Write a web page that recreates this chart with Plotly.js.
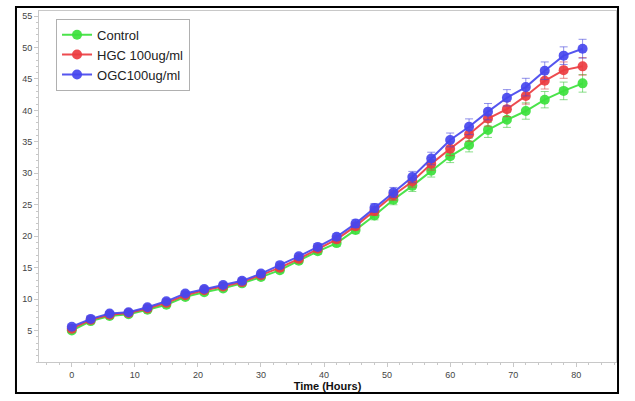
<!DOCTYPE html>
<html><head><meta charset="utf-8">
<script src="https://cdn.plot.ly/plotly-3.0.1.min.js"></script>
<style>html,body{margin:0;padding:0;background:#fff}#chart{width:635px;height:401px}</style>
</head><body><div id="chart"></div>
<script>
var hours = [0,3,6,9,12,15,18,21,24,27,30,33,36,39,42,45,48,51,54,57,60,63,66,69,72,75,78,81];
var control = [5.0,6.5,7.3,7.6,8.3,9.1,10.35,11.1,11.7,12.5,13.5,14.6,16.1,17.6,18.9,21.0,23.3,25.8,28.0,30.4,32.7,34.5,36.9,38.5,39.9,41.7,43.1,44.3];
var hgc = [5.3,6.7,7.5,7.8,8.5,9.4,10.6,11.4,12.0,12.7,13.8,15.0,16.4,18.0,19.5,21.6,24.0,26.5,28.7,31.5,33.9,36.2,38.7,40.2,42.3,44.7,46.4,47.0];
var ogc = [5.6,6.85,7.7,7.9,8.7,9.65,10.9,11.6,12.25,12.9,14.05,15.4,16.8,18.3,19.9,22.0,24.5,26.95,29.4,32.35,35.3,37.4,39.8,42.0,43.7,46.3,48.7,49.8];
var controlErr = [0.3,0.3,0.3,0.3,0.3,0.3,0.35,0.35,0.35,0.4,0.4,0.4,0.45,0.5,0.5,0.6,0.7,0.8,0.9,1.0,1.0,1.1,1.2,1.2,1.3,1.3,1.4,1.4];
var hgcErr = [0.3,0.3,0.3,0.3,0.3,0.35,0.35,0.35,0.4,0.4,0.4,0.45,0.45,0.5,0.5,0.6,0.7,0.8,0.9,1.0,1.1,1.1,1.2,1.2,1.3,1.3,1.3,1.4];
var ogcErr = [0.3,0.3,0.3,0.3,0.3,0.35,0.35,0.35,0.4,0.4,0.4,0.45,0.45,0.5,0.5,0.6,0.7,0.8,0.9,1.0,1.1,1.25,1.3,1.3,1.4,1.4,1.4,1.5];
var names = ['Control','HGC 100ug/ml','OGC100ug/ml'];

function tr(y, err, name, col, errcol){
  return {x: hours, y: y, name: name, type:'scatter', mode:'lines+markers',
    line:{color:col, width:2}, marker:{color:col, size:10},
    error_y:{type:'data', array: err, visible:true, color: errcol, thickness:1, width:4}};
}
var data = [
  tr(control, controlErr, names[0], 'rgba(60,225,60,0.92)', 'rgba(60,200,60,0.6)'),
  tr(hgc, hgcErr, names[1], 'rgba(235,60,64,0.92)', 'rgba(220,60,60,0.6)'),
  tr(ogc, ogcErr, names[2], 'rgba(70,70,238,0.92)', 'rgba(70,70,220,0.6)')
];
var axcol = '#c8c8c8';
var layout = {
  width:635, height:401,
  margin:{l:39, r:19, t:11, b:39},
  paper_bgcolor:'#fff', plot_bgcolor:'#fff',
  font:{family:'Liberation Sans, Arial, sans-serif', color:'#444', size:9},
  showlegend:true,
  legend:{x:0.0295, y:0.978, xanchor:'left', yanchor:'top', bgcolor:'#fff', bordercolor:'#b0b0b0', borderwidth:1,
    font:{size:13, color:'#222'}, tracegroupgap:0},
  xaxis:{range:[-5.2,86.3], dtick:10, tick0:0, showgrid:false, zeroline:false, showline:true, linecolor:axcol, linewidth:1, mirror:true,
    ticks:'outside', ticklen:4, tickcolor:axcol, tickfont:{size:9, color:'#444'},
    minor:{dtick:2, ticks:'outside', ticklen:2, tickcolor:axcol, showgrid:false},
    title:{text:'<b>Time (Hours)</b>', font:{size:11, color:'#111'}, standoff:1}},
  yaxis:{range:[0,55.8], dtick:5, tick0:0, showgrid:false, zeroline:false, showline:true, linecolor:axcol, linewidth:1, mirror:true,
    ticks:'outside', ticklen:4, tickcolor:axcol, tickfont:{size:9, color:'#444'},
    tickvals:[5,10,15,20,25,30,35,40,45,50,55],
    minor:{dtick:1, ticks:'outside', ticklen:2, tickcolor:axcol, showgrid:false}},
  shapes:[{type:'rect', xref:'paper', yref:'paper', x0:-0.0399, x1:1.0035, y0:-0.0883, y1:1.0114,
    line:{color:'#000', width:2}, fillcolor:'rgba(0,0,0,0)', layer:'above'}]
};
Plotly.newPlot('chart', data, layout, {displayModeBar:false, staticPlot:true});
</script></body></html>
